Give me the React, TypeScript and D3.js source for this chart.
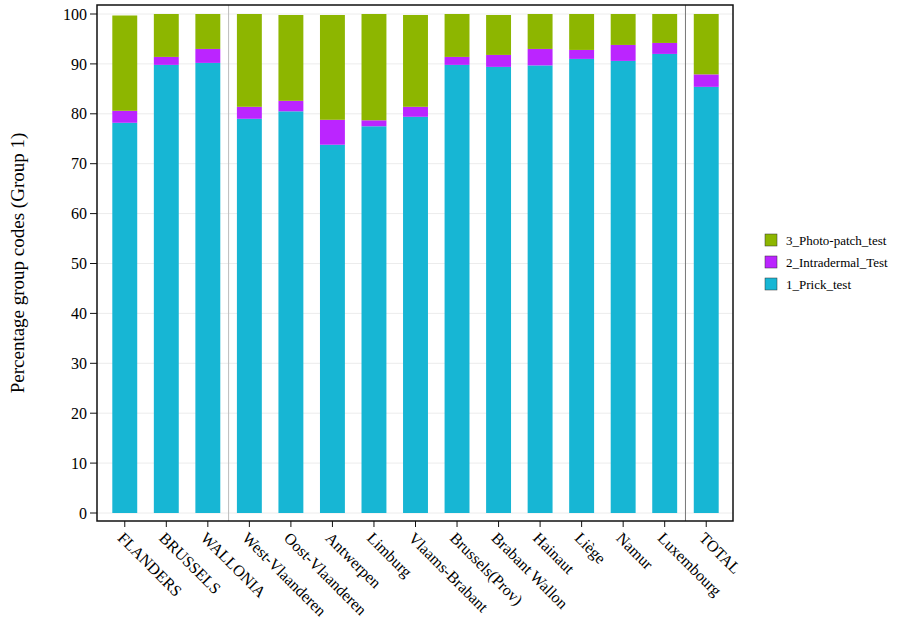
import React, { useRef, useEffect } from "react";
import * as d3 from "d3";

const categories = ["FLANDERS", "BRUSSELS", "WALLONIA", "West-Vlaanderen", "Oost-Vlaanderen", "Antwerpen", "Limburg", "Vlaams-Brabant", "Brussels(Prov)", "Brabant Wallon", "Hainaut", "Liège", "Namur", "Luxembourg", "TOTAL"];
const prickTest = [78.2, 89.8, 90.2, 79.0, 80.5, 73.8, 77.5, 79.4, 89.8, 89.4, 89.7, 91.0, 90.6, 92.0, 85.4];
const intradermalTest = [2.4, 1.6, 2.8, 2.4, 2.1, 5.0, 1.2, 2.0, 1.6, 2.4, 3.3, 1.8, 3.2, 2.2, 2.5];
const photoPatchTest = [19.1, 8.6, 7.0, 18.6, 17.2, 21.0, 21.3, 18.4, 8.6, 8.0, 7.0, 7.2, 6.2, 5.8, 12.1];
const yTicks = [0, 10, 20, 30, 40, 50, 60, 70, 80, 90, 100];
const seriesNames = ["1_Prick_test", "2_Intradermal_Test", "3_Photo-patch_test"];
const seriesColors = ["#17b6d4", "#bb25ff", "#8db600"];
const separatorsAfter = ["WALLONIA", "Luxembourg"];

const App = () => {
	const svgRef = useRef<SVGSVGElement | null>(null);

	useEffect(() => {
		const svg = d3.select(svgRef.current!);
		svg.selectAll("*").remove();
		const font = "'Liberation Serif', 'Times New Roman', serif";

		const left = 97, right = 733, top = 5, bottom = 521;
		const x = d3.scaleBand().domain(categories).range([104, 727]).paddingInner(0.4).paddingOuter(0.2);
		const y = d3.scaleLinear().domain([0, 100]).range([513, 14]);

		const g = svg.append("g");
		g.selectAll("line.grid").data(yTicks).join("line")
			.attr("x1", left).attr("x2", right)
			.attr("y1", (d) => y(d)).attr("y2", (d) => y(d))
			.attr("stroke", "#ececec");

		const stackData = categories.map((c, i) => ({ c, s0: prickTest[i], s1: intradermalTest[i], s2: photoPatchTest[i] }));
		const stacked = d3.stack<any>().keys(["s0", "s1", "s2"])(stackData);
		stacked.forEach((layer, k) => {
			g.selectAll(`rect.l${k}`).data(layer).join("rect")
				.attr("x", (d) => x(d.data.c)!)
				.attr("width", x.bandwidth())
				.attr("y", (d) => y(d[1]))
				.attr("height", (d) => y(d[0]) - y(d[1]))
				.attr("fill", seriesColors[k]);
		});

		separatorsAfter.forEach((c) => {
			const i = categories.indexOf(c);
			const sx = (x(categories[i])! + x.bandwidth() + x(categories[i + 1])!) / 2;
			g.append("line").attr("x1", sx).attr("x2", sx).attr("y1", top).attr("y2", bottom)
				.attr("stroke", i === 2 ? "#bbb" : "#777");
		});

		g.append("rect").attr("x", left).attr("y", top).attr("width", right - left).attr("height", bottom - top)
			.attr("fill", "none").attr("stroke", "#111").attr("stroke-width", 1.5);

		yTicks.forEach((t) => {
			g.append("line").attr("x1", left - 7).attr("x2", left).attr("y1", y(t)).attr("y2", y(t)).attr("stroke", "#111");
			g.append("text").attr("x", left - 10).attr("y", y(t)).attr("dy", "0.35em").attr("text-anchor", "end")
				.attr("font-family", font).attr("font-size", 16).text(t);
		});
		categories.forEach((c) => {
			const cx = x(c)! + x.bandwidth() / 2;
			g.append("line").attr("x1", cx).attr("x2", cx).attr("y1", bottom).attr("y2", bottom + 6).attr("stroke", "#111");
			g.append("text").attr("transform", `translate(${cx - 8},${bottom + 18}) rotate(45)`)
				.attr("font-family", font).attr("font-size", 16).text(c);
		});

		g.append("text").attr("transform", `translate(24,${(top + bottom) / 2}) rotate(-90)`)
			.attr("text-anchor", "middle").attr("font-family", font).attr("font-size", 19)
			.text("Percentage group codes (Group 1)");

		[2, 1, 0].forEach((k, j) => {
			const ly = 234 + j * 22;
			g.append("rect").attr("x", 765).attr("y", ly).attr("width", 12).attr("height", 12)
				.attr("fill", seriesColors[k]).attr("stroke", "#333").attr("stroke-width", 0.5);
			g.append("text").attr("x", 786).attr("y", ly + 6).attr("dy", "0.35em")
				.attr("font-family", font).attr("font-size", 13).text(seriesNames[k]);
		});
	}, []);

	return <svg ref={svgRef} width={919} height={641} style={{ display: "block", position: "absolute", left: 0, top: 0 }}></svg>;
};

export default App;
